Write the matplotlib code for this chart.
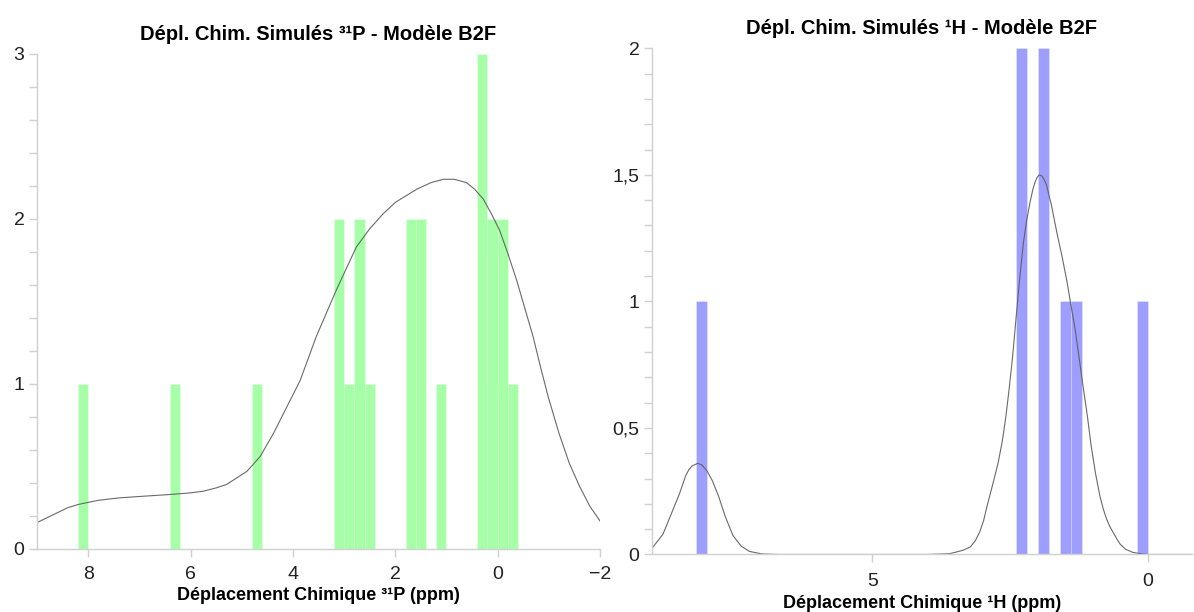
import matplotlib
matplotlib.use("Agg")
import matplotlib.pyplot as plt
import numpy as np
from matplotlib.ticker import MultipleLocator, FuncFormatter

plt.rcParams["font.family"] = ["Liberation Sans", "DejaVu Sans"]

# simulated shifts (ppm), one entry per nucleus
p31_shifts = [8.1, 6.3, 4.7, 3.1, 3.1, 2.9, 2.7, 2.7, 2.5, 1.7, 1.7, 1.5, 1.5,
              1.1, 0.3, 0.3, 0.3, 0.1, 0.1, -0.1, -0.1, -0.3]
h1_shifts = [8.1, 2.3, 2.3, 1.9, 1.9, 1.5, 1.3, 0.1]

# density curves
p31_curve_x = [9.0, 8.8, 8.6, 8.4, 8.19, 7.8, 7.38, 6.9, 6.4, 6.0, 5.75, 5.5,
               5.3, 5.1, 4.9, 4.64, 4.38, 4.12, 3.86, 3.54, 3.15, 2.76, 2.5,
               2.24, 2.0, 1.58, 1.3, 1.06, 0.85, 0.61, 0.45, 0.28, 0.12, -0.04,
               -0.2, -0.37, -0.53, -0.69, -0.84, -0.99, -1.2, -1.4, -1.6, -1.8,
               -2.0]
p31_curve_y = [0.16, 0.19, 0.22, 0.25, 0.27, 0.295, 0.31, 0.32, 0.33, 0.34,
               0.35, 0.37, 0.39, 0.43, 0.47, 0.56, 0.70, 0.86, 1.02, 1.29, 1.57,
               1.83, 1.94, 2.03, 2.10, 2.18, 2.22, 2.24, 2.24, 2.22, 2.18, 2.12,
               2.03, 1.93, 1.79, 1.63, 1.46, 1.29, 1.10, 0.92, 0.70, 0.52, 0.38,
               0.26, 0.17]

h1_curve_x = [9.0, 8.8, 8.64, 8.5, 8.39, 8.33, 8.27, 8.17, 8.1, 8.0, 7.9, 7.79,
              7.67, 7.53, 7.38, 7.23, 7.0, 6.7, 5.0, 4.0, 3.6, 3.47, 3.35, 3.22,
              3.13, 3.05, 2.98, 2.92, 2.86, 2.8, 2.72, 2.64, 2.58, 2.52, 2.46,
              2.41, 2.34, 2.26, 2.2, 2.14, 2.09, 2.05, 2.01, 1.97, 1.92, 1.88,
              1.84, 1.75, 1.65, 1.56, 1.47, 1.40, 1.32, 1.25, 1.18, 1.10, 1.03,
              0.95, 0.87, 0.81, 0.75, 0.69, 0.63, 0.56, 0.5, 0.4, 0.27, 0.1,
              0.0, -0.8]
h1_curve_y = [0.024, 0.08, 0.165, 0.24, 0.31, 0.335, 0.35, 0.36, 0.355, 0.33,
              0.29, 0.23, 0.15, 0.075, 0.033, 0.012, 0.002, 0.0, 0.0, 0.0, 0.003,
              0.01, 0.017, 0.03, 0.055, 0.09, 0.135, 0.19, 0.24, 0.29, 0.36,
              0.45, 0.54, 0.65, 0.77, 0.89, 1.06, 1.23, 1.32, 1.39, 1.44, 1.47,
              1.49, 1.50, 1.495, 1.48, 1.46, 1.38, 1.27, 1.18, 1.08, 0.99, 0.89,
              0.78, 0.67, 0.55, 0.43, 0.32, 0.23, 0.18, 0.14, 0.11, 0.087, 0.06,
              0.04, 0.02, 0.008, 0.002, 0.0, 0.0]

bin_edges = np.round(np.arange(-0.4, 8.41, 0.2), 1)

AXIS_GRAY = "#d0d0d0"


def style_axis(ax, xpad):
    for side in ("top", "right"):
        ax.spines[side].set_visible(False)
    for side in ("left", "bottom"):
        ax.spines[side].set_color(AXIS_GRAY)
        ax.spines[side].set_linewidth(1.0)
    ax.tick_params(which="both", color=AXIS_GRAY, length=6, width=1,
                   labelsize=14, labelcolor="#222222", pad=3)
    ax.tick_params(axis="x", pad=xpad)
    ax.tick_params(axis="x", which="minor", length=0)


fig = plt.figure(figsize=(11.94, 6.12), dpi=100)

# left: 31P
ax1 = fig.add_axes([0.031, 0.103, 0.4715, 0.809])
ax1.hist(p31_shifts, bins=bin_edges, color="#00ff00", alpha=0.35,
         edgecolor=(1, 1, 1, 0.5), linewidth=0.5)
ax1.plot(p31_curve_x, p31_curve_y, color="#5a5a5a", linewidth=0.8, alpha=0.9)
ax1.set_xlim(9, -2)
ax1.set_ylim(0, 3)
ax1.set_xticks([8, 6, 4, 2, 0, -2])
ax1.set_yticks([0, 1, 2, 3])
ax1.yaxis.set_minor_locator(MultipleLocator(0.2))
style_axis(ax1, xpad=6)
ax1.set_title("Dépl. Chim. Simulés ³¹P - Modèle B2F", fontsize=14.5,
              fontweight="bold", pad=10)
ax1.set_xlabel("Déplacement Chimique ³¹P (ppm)", fontsize=13,
               fontweight="bold", labelpad=3)

# right: 1H
ax2 = fig.add_axes([0.546, 0.094, 0.4523, 0.827])
ax2.hist(h1_shifts, bins=bin_edges, color="#0000ff", alpha=0.38,
         edgecolor=(1, 1, 1, 0.5), linewidth=0.5)
ax2.plot(h1_curve_x, h1_curve_y, color="#5a5a5a", linewidth=0.8, alpha=0.9)
ax2.set_xlim(9, -0.8)
ax2.set_ylim(0, 2)
ax2.set_xticks([5, 0])
ax2.set_yticks([0, 0.5, 1, 1.5, 2])
ax2.yaxis.set_minor_locator(MultipleLocator(0.1))
ax2.yaxis.set_major_formatter(FuncFormatter(lambda v, p: f"{v:g}".replace(".", ",")))
style_axis(ax2, xpad=7)
ax2.set_title("Dépl. Chim. Simulés ¹H - Modèle B2F", fontsize=14.5,
              fontweight="bold", pad=10)
ax2.set_xlabel("Déplacement Chimique ¹H (ppm)", fontsize=13,
               fontweight="bold", labelpad=4)

fig.savefig("out.png", dpi=100)
